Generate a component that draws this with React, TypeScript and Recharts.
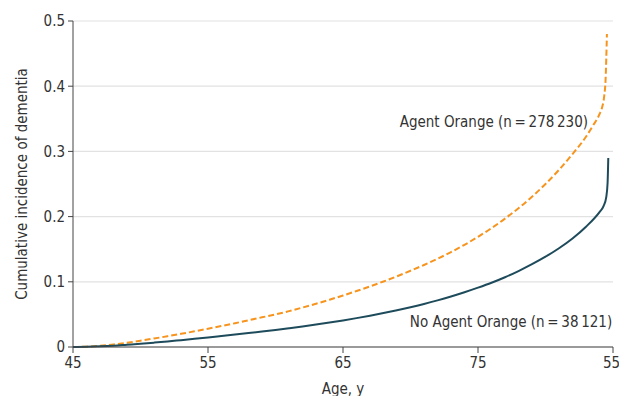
import { LineChart, Line, XAxis, YAxis, CartesianGrid, ReferenceDot } from "recharts";

const FONT = "'Liberation Sans Narrow', 'DejaVu Sans Condensed', 'Noto Sans', sans-serif";
const INK = "#333333";
const ORANGE = "#F7941D";
const TEAL = "#1E4B5B";

// ages (years)
const orangeAges = [45, 46, 47, 48, 49, 50, 51, 52, 53, 54, 55, 56, 57, 58, 59, 60, 61, 62, 63, 64, 65, 66, 67, 68, 69, 70, 71, 72, 73, 74, 75, 76, 77, 78, 79, 80, 81, 82, 83, 83.5, 84, 84.2, 84.35, 84.45, 84.55];
const orangeValues = [0, 0.0005, 0.0018, 0.0038, 0.0065, 0.0097, 0.013, 0.0165, 0.0202, 0.024, 0.028, 0.0322, 0.0365, 0.041, 0.0455, 0.05, 0.055, 0.0605, 0.0663, 0.0725, 0.079, 0.0858, 0.093, 0.1005, 0.1085, 0.117, 0.1258, 0.1353, 0.1456, 0.1568, 0.169, 0.1823, 0.1969, 0.2129, 0.2305, 0.25, 0.2717, 0.296, 0.3225, 0.339, 0.357, 0.368, 0.385, 0.41, 0.48];

const tealAges = [45, 46, 47, 48, 49, 50, 51, 52, 53, 54, 55, 56, 57, 58, 59, 60, 61, 62, 63, 64, 65, 66, 67, 68, 69, 70, 71, 72, 73, 74, 75, 76, 77, 78, 79, 80, 81, 82, 83, 84, 84.3, 84.5, 84.6, 84.65];
const tealValues = [0, 0.0003, 0.001, 0.002, 0.0035, 0.005, 0.0067, 0.0085, 0.0105, 0.0125, 0.0146, 0.0168, 0.019, 0.0213, 0.0237, 0.0262, 0.0288, 0.0315, 0.0344, 0.0375, 0.0408, 0.0443, 0.048, 0.052, 0.0563, 0.061, 0.066, 0.0715, 0.0775, 0.084, 0.091, 0.0985, 0.107, 0.1165, 0.127, 0.1385, 0.1515, 0.1665, 0.1845, 0.207, 0.216, 0.23, 0.252, 0.29];

const xTicks = [45, 55, 65, 75, 85];
const xTickLabels = ["45", "55", "65", "75", "55"];
const yTicks = [0, 0.1, 0.2, 0.3, 0.4, 0.5];

const orangeData = orangeAges.map((age, i) => ({ age, value: orangeValues[i] }));
const tealData = tealAges.map((age, i) => ({ age, value: tealValues[i] }));

const seriesLabel = (text: string) => (props: any) => {
  const { x, y } = props.viewBox;
  return (
    <text x={x} y={y} dy="0.35em" fill={INK} fontSize={15} fontFamily={FONT}>
      {text}
    </text>
  );
};

export default function App() {
  return (
    <div style={{ position: "absolute", left: 0, top: 0, fontFamily: FONT }}>
      <LineChart width={619} height={396} margin={{ top: 21, right: 6, left: 0, bottom: 0 }}>
        <CartesianGrid vertical={false} stroke="#e2e2e2" strokeWidth={1.2} />
        <XAxis
          type="number"
          dataKey="age"
          domain={[45, 85]}
          ticks={xTicks}
          tickFormatter={(v) => xTickLabels[xTicks.indexOf(v)]}
          height={49}
          stroke="#444"
          tickSize={6}
          tickMargin={4}
          tick={{ fill: INK, fontSize: 15, fontFamily: FONT }}
          label={{ value: "Age, y", position: "insideBottom", offset: 2, fill: INK, fontSize: 15, fontFamily: FONT }}
          allowDuplicatedCategory={false}
        />
        <YAxis
          type="number"
          domain={[0, 0.5]}
          ticks={yTicks}
          width={73}
          stroke="#444"
          tickSize={5}
          tickMargin={3}
          tickFormatter={(v) => (v === 0 ? "0" : String(v))}
          tick={{ fill: INK, fontSize: 15, fontFamily: FONT }}
          label={(props: any) => {
            const vb = props.viewBox;
            const cx = vb.x + 22;
            const cy = vb.y + vb.height / 2;
            return (
              <text
                x={cx}
                y={cy}
                transform={`rotate(-90 ${cx} ${cy})`}
                textAnchor="middle"
                dy="0.35em"
                fill={INK}
                fontSize={15}
                fontFamily={FONT}
              >
                Cumulative incidence of dementia
              </text>
            );
          }}
        />
        <Line
          data={orangeData}
          dataKey="value"
          type="monotone"
          stroke={ORANGE}
          strokeWidth={2}
          strokeDasharray="6 3"
          dot={false}
          isAnimationActive={false}
        />
        <Line
          data={tealData}
          dataKey="value"
          type="monotone"
          stroke={TEAL}
          strokeWidth={2}
          dot={false}
          isAnimationActive={false}
        />
        <ReferenceDot x={69.2} y={0.345} r={0} fill="none" stroke="none" label={seriesLabel("Agent Orange (n\u2009=\u2009278\u2009230)")} />
        <ReferenceDot x={69.95} y={0.039} r={0} fill="none" stroke="none" label={seriesLabel("No Agent Orange (n\u2009=\u200938\u2009121)")} />
      </LineChart>
    </div>
  );
}
